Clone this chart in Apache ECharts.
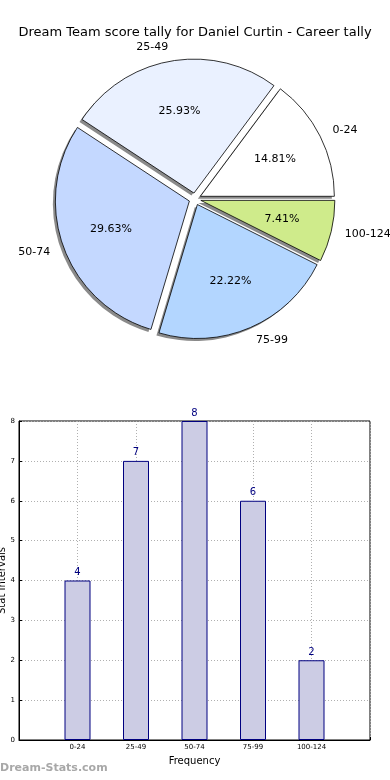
<!DOCTYPE html>
<html>
<head>
<meta charset="utf-8">
<script src="https://cdn.jsdelivr.net/npm/echarts@6/dist/echarts.min.js"></script>
<style>
html,body{margin:0;padding:0;background:#fff;}
#c{width:390px;height:780px;}
</style>
</head>
<body>
<div id="c"></div>
<script>
const titleText = 'Dream Team score tally for Daniel Curtin - Career tally';
const categories = ['0-24', '25-49', '50-74', '75-99', '100-124'];
const counts = [4, 7, 8, 6, 2];
const sliceColors = ['#ffffff', '#eaf1ff', '#c4d8ff', '#b3d6ff', '#cfeb8b'];
const yTicks = [0, 1, 2, 3, 4, 5, 6, 7, 8];

const total = counts.reduce((a, b) => a + b, 0);
const FONT = 'DejaVu Sans';
const R = 134;
const CX = 195, CY = 199;
const EXPLODE = 6;

const pieData = categories.map((c, i) => ({
  name: c, value: counts[i], selected: true,
  itemStyle: { color: sliceColors[i] }
}));
const plainData = categories.map((c, i) => ({ name: c, value: counts[i], selected: true }));

const pieCommon = {
  type: 'pie', startAngle: 0, clockwise: false,
  selectedMode: 'multiple', selectedOffset: EXPLODE,
  avoidLabelOverlap: false, emphasis: { disabled: true }, silent: true
};

const chart = echarts.init(document.getElementById('c'), null, { renderer: 'canvas' });
chart.setOption({
  animation: false,
  backgroundColor: '#ffffff',
  title: {
    text: titleText, left: 'center', top: 21,
    textStyle: { fontFamily: FONT, fontSize: 13, fontWeight: 'normal', color: '#000' }
  },
  graphic: [{
    type: 'text', left: 0, top: 763,
    style: { text: 'Dream-Stats.com', font: 'bold 11px "DejaVu Sans"', fill: '#a8a8a8' }
  }],
  grid: {
    left: 19, right: 20, top: 421, bottom: 40,
    containLabel: false, outerBoundsMode: 'none',
    show: true, borderColor: '#000', borderWidth: 1
  },
  xAxis: {
    type: 'value', min: 0, max: categories.length + 1, interval: 1,
    name: 'Frequency', nameLocation: 'middle', nameGap: 16, nameMoveOverlap: false,
    nameTextStyle: { fontFamily: FONT, fontSize: 10, color: '#000' },
    axisLine: { show: true, lineStyle: { color: '#000' } },
    axisTick: { show: true, inside: true, length: 3, lineStyle: { color: '#000' } },
    axisLabel: {
      fontFamily: FONT, fontSize: 7, color: '#000', margin: 4,
      formatter: v => categories[v - 1] || ''
    },
    splitLine: { show: true, lineStyle: { color: '#b0b0b0', type: [1, 2], width: 1 } }
  },
  yAxis: {
    type: 'value', min: yTicks[0], max: yTicks[yTicks.length - 1], interval: 1,
    name: 'Stat Intervals', nameLocation: 'middle', nameGap: 12, nameRotate: 90, nameMoveOverlap: false,
    nameTextStyle: { fontFamily: FONT, fontSize: 10, color: '#000' },
    axisLine: { show: true, lineStyle: { color: '#000' } },
    axisTick: { show: true, inside: true, length: 3, lineStyle: { color: '#000' } },
    axisLabel: { fontFamily: FONT, fontSize: 7, color: '#000', margin: 4 },
    splitLine: { show: true, lineStyle: { color: '#b0b0b0', type: [1, 2], width: 1 } }
  },
  series: [
    Object.assign({}, pieCommon, {
      center: [CX - 2.5, CY + 2.5], radius: [0, R],
      data: plainData,
      itemStyle: { color: '#8a8a8a', borderWidth: 0 },
      label: { show: false }, labelLine: { show: false }
    }),
    Object.assign({}, pieCommon, {
      center: [CX, CY], radius: [0, R],
      data: pieData,
      itemStyle: { borderColor: '#000', borderWidth: 0.8 },
      label: {
        show: true, position: 'outside', fontFamily: FONT, fontSize: 11, color: '#000',
        distanceToLabelLine: 0
      },
      labelLine: { show: false, length: 14, length2: 0 }
    }),
    Object.assign({}, pieCommon, {
      center: [CX, CY], radius: [R * 0.2, R],
      data: plainData,
      itemStyle: { color: 'rgba(0,0,0,0)', borderWidth: 0 },
      label: {
        show: true, position: 'inside', fontFamily: FONT, fontSize: 11, color: '#000',
        formatter: p => (p.value / total * 100).toFixed(2) + '%'
      },
      labelLine: { show: false }
    }),
    {
      type: 'bar', barWidth: 26,
      data: counts.map((v, i) => [i + 1, v]),
      itemStyle: { color: '#ccccE4', borderColor: '#000080', borderWidth: 1 },
      label: {
        show: true, position: 'top', distance: 3, fontFamily: FONT, fontSize: 10, color: '#000080'
      },
      emphasis: { disabled: true },
      silent: true
    }
  ]
});
</script>
</body>
</html>
